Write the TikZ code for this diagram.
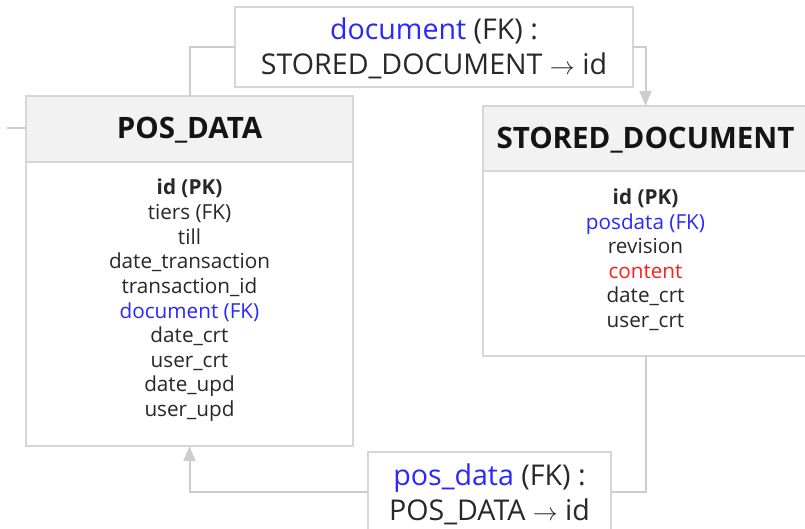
\documentclass[tikz,border=0pt]{standalone}
\usepackage{fontspec}
\setmainfont{Open Sans}
\usetikzlibrary{arrows.meta}

\definecolor{fkblue}{RGB}{40,40,255}
\definecolor{fkred}{RGB}{255,30,30}
\definecolor{edge}{RGB}{214,214,214}
\definecolor{wire}{RGB}{205,205,205}
\definecolor{headfill}{RGB}{242,242,242}
\definecolor{ink}{RGB}{40,40,40}

\begin{document}
\begin{tikzpicture}[x=1pt,y=-1pt,
  frame/.style={draw=edge, line width=1.5pt, inner sep=0pt, outer sep=0pt},
  tablehead/.style={frame, fill=headfill},
  tablebody/.style={frame, fill=white},
  fkbox/.style={frame, fill=white, minimum height=80pt},
  title/.style={anchor=base, inner sep=0pt, font=\fontsize{29.5}{32}\selectfont\bfseries, text=black!92},
  field/.style={anchor=base, inner sep=0pt, font=\fontsize{20.7}{24}\selectfont, text=ink},
  fklabel/.style={anchor=base, inner sep=0pt, font=\fontsize{28.6}{32}\selectfont, text=ink},
  wireline/.style={draw=wire, line width=2pt},
  fkarrow/.style={wireline, -{Triangle[width=12pt,length=15pt]}}
]
\path[use as bounding box, clip] (0,0) rectangle (805,529);

% ---- table POS_DATA ----
\node[tablehead, minimum width=327pt, minimum height=66pt] (pdhead) at (189.5,129) {};
\node[tablebody, minimum width=327pt, minimum height=284pt] (pdbody) at (189.5,304) {};
\node[title] (pdtitle) at (189.5,138.5) {POS\_DATA};
\node[field] (pd1)  at (189.5,195.0) {\bfseries id (PK)};
\node[field] (pd2)  at (189.5,219.6) {tiers (FK)};
\node[field] (pd3)  at (189.5,244.2) {till};
\node[field] (pd4)  at (189.5,268.8) {date\_transaction};
\node[field] (pd5)  at (189.5,293.4) {transaction\_id};
\node[field, text=fkblue] (pd6) at (189.5,318.0) {document (FK)};
\node[field] (pd7)  at (189.5,342.6) {date\_crt};
\node[field] (pd8)  at (189.5,367.2) {user\_crt};
\node[field] (pd9)  at (189.5,391.8) {date\_upd};
\node[field] (pd10) at (189.5,416.4) {user\_upd};

% ---- table STORED_DOCUMENT ----
\node[tablehead, minimum width=325pt, minimum height=65pt] (sdhead) at (645.5,138.5) {};
\node[tablebody, minimum width=325pt, minimum height=185pt] (sdbody) at (645.5,263.5) {};
\node[title] (sdtitle) at (645.5,148.5) {STORED\_DOCUMENT};
\node[field] (sd1) at (645.5,204.5) {\bfseries id (PK)};
\node[field, text=fkblue] (sd2) at (645.5,229.1) {posdata (FK)};
\node[field] (sd3) at (645.5,253.7) {revision};
\node[field, text=fkred] (sd4) at (645.5,278.3) {content};
\node[field] (sd5) at (645.5,302.9) {date\_crt};
\node[field] (sd6) at (645.5,327.5) {user\_crt};

% ---- foreign key labels ----
\node[fkbox, minimum width=398pt] (fkdoc) at (434,47) {};
\node[fklabel] (fkdoc1) at (434,39.5) {\textcolor{fkblue}{document} (FK) :};
\node[fklabel] (fkdoc2) at (434,74.5) {STORED\_DOCUMENT $\rightarrow$ id};

\node[fkbox, minimum width=243pt] (fkpos) at (489.5,492) {};
\node[fklabel] (fkpos1) at (489.5,485.5) {\textcolor{fkblue}{pos\_data} (FK) :};
\node[fklabel] (fkpos2) at (489.5,520.5) {POS\_DATA $\rightarrow$ id};

% ---- connectors ----
\coordinate (stub) at (7,128);
\draw[wireline] (stub) -- (stub -| pdhead.west);
\draw[wireline] (pdhead.north) |- (fkdoc.west);
\draw[fkarrow] (fkdoc.east) -| (sdhead.north);
\draw[wireline] (sdbody.south) |- (fkpos.east);
\draw[fkarrow] (fkpos.west) -| (pdbody.south);
\end{tikzpicture}
\end{document}
